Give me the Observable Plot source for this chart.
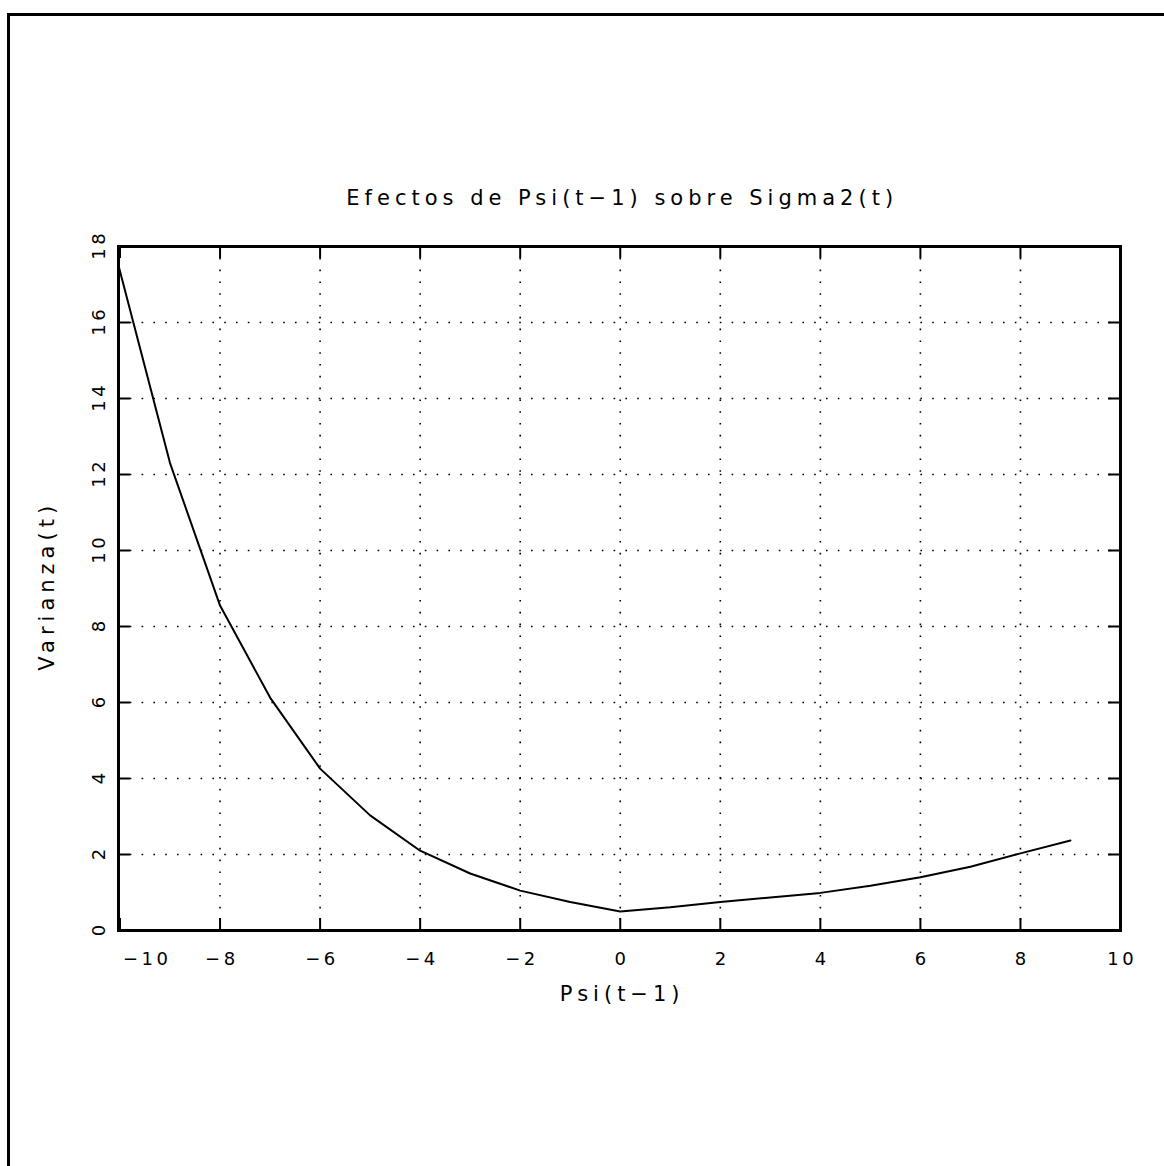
<!DOCTYPE html>
<html>
<head>
<meta charset="utf-8">
<script src="https://cdn.jsdelivr.net/npm/d3@7"></script>
<script src="https://cdn.jsdelivr.net/npm/@observablehq/plot@0.6"></script>
<style>
  html, body { margin: 0; padding: 0; background: #fff; }
  #wrap { position: relative; width: 1164px; height: 1166px; overflow: hidden; background: #fff; }
  #border { position: absolute; left: 7px; top: 13px; width: 1200px; height: 1200px;
            border-left: 3px solid #000; border-top: 3px solid #000; box-sizing: border-box; }
  #chart { position: absolute; left: 0; top: 0; }
</style>
</head>
<body>
<div id="wrap"><div id="border"></div><div id="chart"></div></div>
<script>
// Data
const psi = [-10.02, -9, -8, -7, -6, -5, -4, -3, -2, -1, 0, 1, 2, 3, 4, 5, 6, 7, 8, 9];
const varianza = [17.45, 12.3, 8.55, 6.13, 4.26, 3.03, 2.1, 1.5, 1.05, 0.75, 0.5, 0.61, 0.75, 0.87, 0.99, 1.18, 1.4, 1.68, 2.03, 2.37];
const xTicks = [-10, -8, -6, -4, -2, 0, 2, 4, 6, 8, 10];
const yTicks = [0, 2, 4, 6, 8, 10, 12, 14, 16, 18];
const titleText = "Efectos de Psi(t\u22121) sobre Sigma2(t)";
const xLabel = "Psi(t\u22121)";
const yLabel = "Varianza(t)";

const rows = psi.map((x, i) => ({x, y: varianza[i]}));
const fmt = d => d < 0 ? "\u2212" + Math.abs(d) : String(d);
const dotted = {stroke: "#000", strokeOpacity: 1, strokeWidth: 1.6, strokeDasharray: "1.6,10.2"};
const tickText = {fontSize: 18, fill: "#000", lineAnchor: "middle", ariaLabel: () => "ticklabel"};
const labelText = {fontSize: 21, fill: "#000", lineAnchor: "middle", textAnchor: "middle", ariaLabel: () => "label"};

const chart = Plot.plot({
  width: 1164,
  height: 1166,
  marginTop: 246,
  marginBottom: 236,
  marginLeft: 118,
  marginRight: 44,
  x: {domain: [-10.03, 10], axis: null},
  y: {domain: [0, 18], axis: null},
  style: {fontFamily: "DejaVu Sans, Liberation Sans, sans-serif", background: "transparent", color: "#000"},
  marks: [
    Plot.gridX(xTicks.filter(d => d > -10 && d < 10), dotted),
    Plot.gridY(yTicks.filter(d => d > 0 && d < 18), dotted),
    Plot.tickX(xTicks, {x: d => d, insetTop: 672, stroke: "#000", strokeWidth: 2}),
    Plot.tickX(xTicks, {x: d => d, insetBottom: 672, stroke: "#000", strokeWidth: 2}),
    Plot.tickY(yTicks, {y: d => d, insetRight: 990, stroke: "#000", strokeWidth: 2}),
    Plot.tickY(yTicks, {y: d => d, insetLeft: 990, stroke: "#000", strokeWidth: 2}),
    Plot.frame({stroke: "#000", strokeWidth: 3}),
    Plot.line(rows, {x: "x", y: "y", stroke: "#000", strokeWidth: 2}),
    Plot.text(xTicks.filter(d => d !== -10), {...tickText, x: d => d, frameAnchor: "bottom", dy: 29, dx: 1.8, textAnchor: "middle", text: fmt}),
    Plot.text([-10], {...tickText, x: d => d, frameAnchor: "bottom", dy: 29, dx: 3, textAnchor: "start", text: fmt}),
    Plot.text(yTicks, {...tickText, y: d => d, frameAnchor: "left", dx: -19.5, dy: -1.8, rotate: -90, textAnchor: "middle", text: fmt}),
    Plot.text([titleText], {...labelText, frameAnchor: "top", dy: -48, dx: 2.7, text: d => d}),
    Plot.text([xLabel], {...labelText, frameAnchor: "bottom", dy: 64, dx: 2.7, text: d => d}),
    Plot.text([yLabel], {...labelText, frameAnchor: "left", dx: -71, dy: -2.7, rotate: -90, text: d => d})
  ]
});
const sel = d3.select(chart);
sel.selectAll('text[aria-label="ticklabel"]').style("letter-spacing", "3.5px");
sel.selectAll('text[aria-label="label"]').style("letter-spacing", "5px");
document.getElementById("chart").appendChild(chart);
</script>
</body>
</html>
